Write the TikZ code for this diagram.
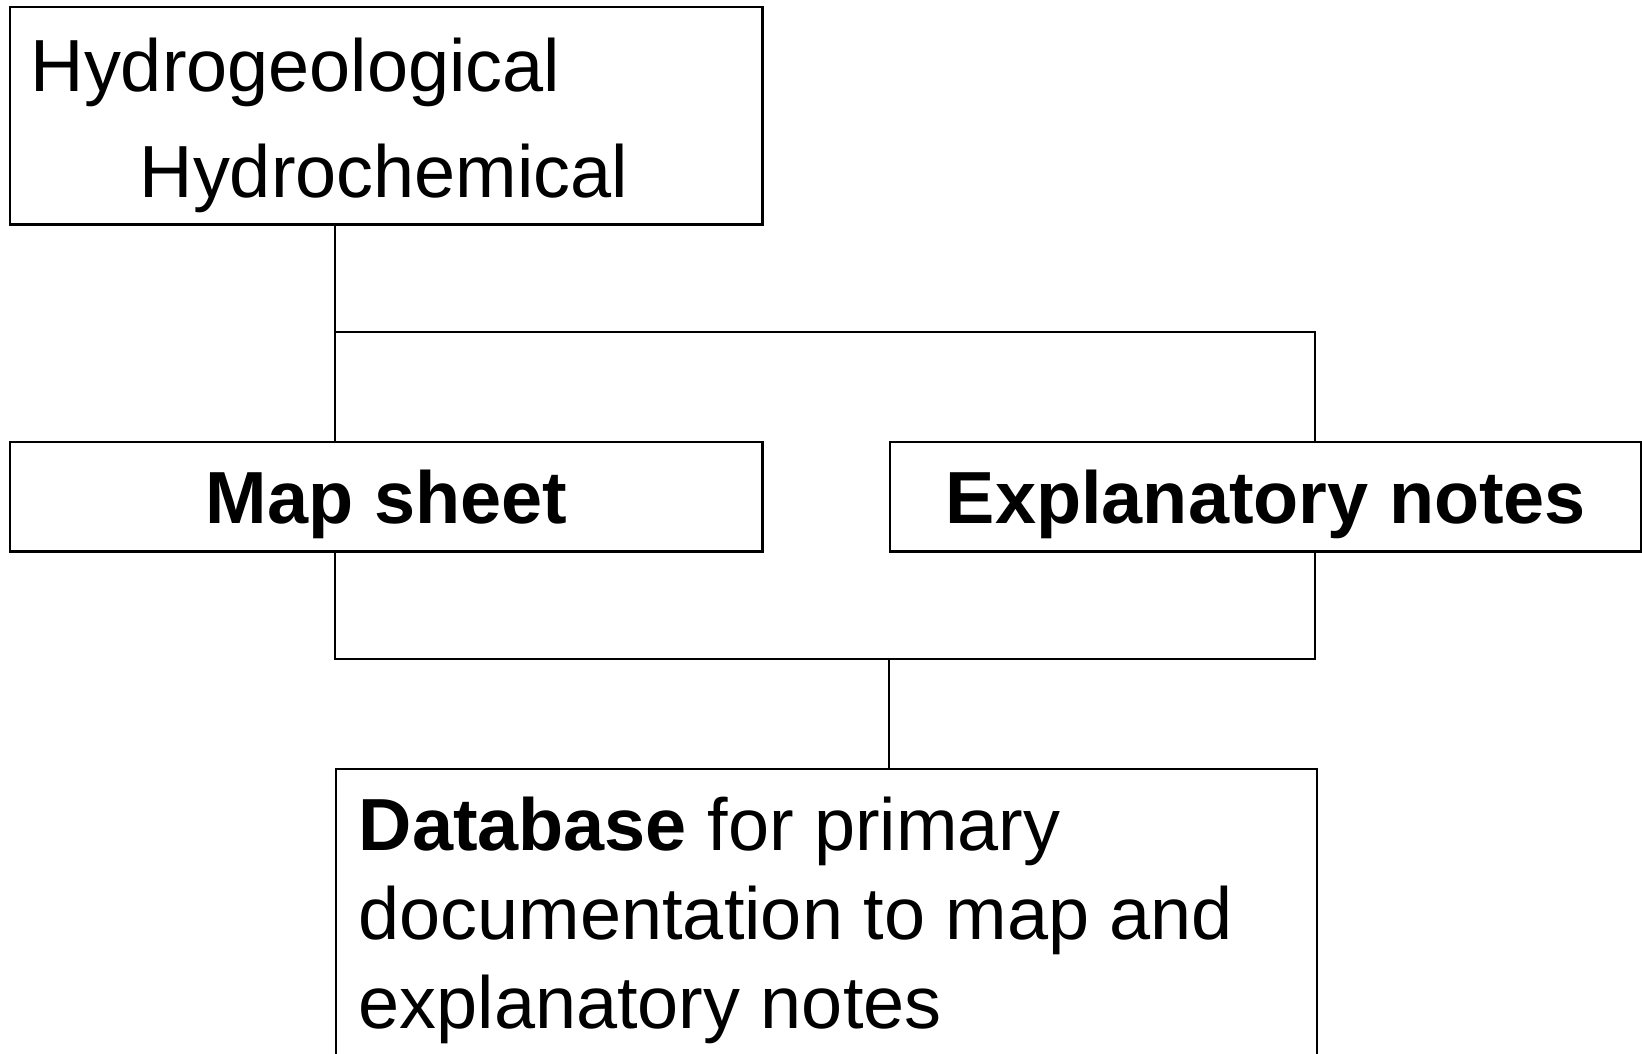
\documentclass[tikz,border=0pt]{standalone}
\usepackage{fontspec}
\setmainfont{Liberation Sans}
\usetikzlibrary{positioning}

\begin{document}
\begin{tikzpicture}
    [
        x=0.01cm, y=-0.01cm,
        box/.style={draw, rectangle, line width=0.7pt, inner sep=0pt, anchor=north west},
        txt/.style={inner sep=0pt, anchor=base west, align=left, font=\fontsize{21}{25.3}\selectfont},
        head/.style={font=\fontsize{21}{25.3}\selectfont\bfseries, text height=19.8pt, text depth=4.4pt},
        wire/.style={line width=0.6pt}
    ]
        \useasboundingbox (0,0) rectangle (1642,1053);
        \clip (0,0) rectangle (1642,1053);
        % =========================================================================
        % NODES
        % =========================================================================
        % --- Row 1 ---
        \node [box, minimum width=7.52cm, minimum height=2.17cm] (maps) at (9,6) {};
        \node [txt] (hgeo) at (30,91) {Hydrogeological};
        \node [txt] (hchem) at (139,197) {Hydrochemical};
        % --- Row 2 ---
        \node [box, head, minimum width=7.52cm, minimum height=1.09cm] (sheet) at (9,441) {Map sheet};
        \node [box, head, minimum width=7.51cm, minimum height=1.09cm] (notes) at (889,441) {Explanatory notes};
        % --- Row 3 ---
        \node [box, minimum width=9.80cm, minimum height=3.5cm] (db) at (335,768) {};
        % base of a multi-line node sits on its last line
        \node [txt] (dbtext) at (358,1028) {\textbf{Database} for primary\\documentation to map and\\explanatory notes};
        % --- Junctions ---
        \coordinate (jtl) at (335,332);
        \coordinate (jtr) at (1315,332);
        \coordinate (jbl) at (335,659);
        \coordinate (jbr) at (1315,659);
        \coordinate (jbm) at (889,659);

        % =========================================================================
        % PATHS
        % =========================================================================
        \draw [wire] (maps.south -| jtl) -- (sheet.north -| jtl);
        \draw [wire] (jtl) -- (jtr) -- (notes.north -| jtr);
        \draw [wire] (sheet.south -| jbl) -- (jbl) -- (jbr) -- (notes.south -| jbr);
        \draw [wire] (jbm) -- (db.north -| jbm);
    \end{tikzpicture}
\end{document}
